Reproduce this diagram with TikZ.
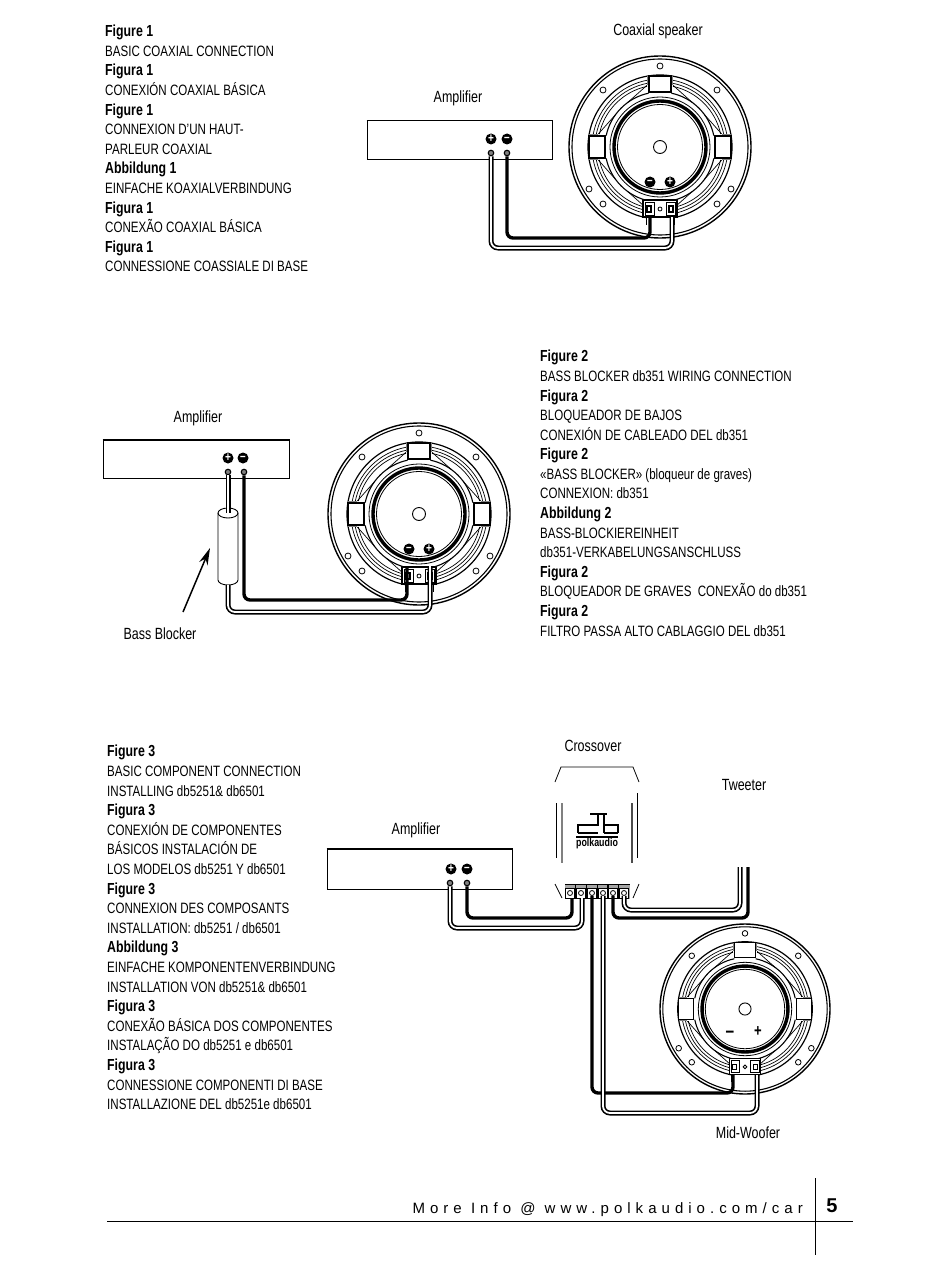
\documentclass[tikz,border=0pt]{standalone}
\usepackage{fontspec}
\setmainfont[FakeStretch=0.77]{Liberation Sans}
\newfontfamily\footfont[LetterSpace=33.5]{Liberation Sans}
\newfontfamily\pagefont{Liberation Sans}
\usetikzlibrary{arrows.meta}
\tikzset{
  caption/.style={anchor=north west, align=left, inner sep=0pt, font=\fontsize{15}{19.6}\selectfont},
  label/.style={inner sep=0pt, font=\fontsize{16.2}{18}\selectfont},
  ampbox/.style={draw=black, line width=1pt},
  polmark/.style={circle, fill=black, text=white, inner sep=0pt, minimum size=11pt, font=\fontsize{13}{13}\bfseries\selectfont},
  post/.style={circle, draw=black, fill=gray, inner sep=0pt, minimum size=5.5pt, line width=1.1pt},
  dblwire/.style={draw=black, line width=1.6pt, double=white, double distance=1.8pt, rounded corners=7pt},
  solidwire/.style={draw=black, line width=3.4pt, rounded corners=6pt},
  speaker/.pic={
    \draw[line width=1.4pt] (0,0) circle (91);
    \draw[line width=1.1pt] (0,0) circle (88);
    \draw[line width=1.2pt] (0,0) circle (72);
    \draw[line width=3.4pt] (0,0) circle (46);
    \draw[line width=.8pt] (0,0) circle (50);
    \draw[line width=.8pt] (0,0) circle (42.5);
    \draw[line width=.9pt] (0,0) circle (6.5);
    \foreach \a in {0,90,180,270} {
      \draw[line width=.7pt] (\a+10:68) arc[start angle=\a+10,end angle=\a+80,radius=68];
      \draw[line width=.7pt] (\a+11:65) arc[start angle=\a+11,end angle=\a+79,radius=65];
      \draw[line width=.7pt] (\a+12:62) arc[start angle=\a+12,end angle=\a+78,radius=62];
      \draw[line width=1.1pt] (\a+12:55) arc[start angle=\a+12,end angle=\a+78,radius=55];
      \draw[line width=.7pt] (\a+12:63) -- (\a+36:55);
      \draw[line width=.7pt] (\a+78:63) -- (\a+54:55);
    }
    \foreach \r in {0,90,270} {
      \draw[rotate=\r, line width=1.1pt, fill=white] (-11,-71) -- (11,-71) -- (11,-55) -- (-11,-55) -- cycle;
      \draw[rotate=\r, line width=1.6pt, gray] (-12.5,-71) -- (-12.5,-62) (12.5,-71) -- (12.5,-62);
    }
    \foreach \p in {(0,-81),(-57,-57),(57,-57),(-71,42),(71,42),(-57,57),(57,57)}
      \draw[line width=.8pt, fill=white] \p circle (3);
    \fill[white] (-14,66) rectangle (14,85);
    \draw[line width=1.1pt, fill=white] (-17,53) rectangle (17,70);
    \draw[line width=.8pt] (-15,55) rectangle (-6,68) (6,55) rectangle (15,68);
    \draw[line width=1.1pt, fill=white] (-13,59) rectangle (-9,65) (9,59) rectangle (13,65);
    \draw[line width=.8pt] (0,62) circle (2);
    \draw[line width=.9pt] (-14,70) -- (-14,78) (14,70) -- (14,78);
  }
}
\newcommand{\fighead}[1]{{\fontsize{16}{19.6}\bfseries\selectfont #1}}
\begin{document}
\begin{tikzpicture}[x=1pt,y=-1pt]
  \useasboundingbox (0,0) rectangle (950,1276);
  \fill[white] (0,0) rectangle (950,1276);

  % figure 1
  \node[caption] (capA) at (105,25) {\fighead{Figure 1}\\BASIC COAXIAL CONNECTION\\\fighead{Figura 1}\\CONEXIÓN COAXIAL BÁSICA\\\fighead{Figure 1}\\CONNEXION D’UN HAUT-\\PARLEUR COAXIAL\\\fighead{Abbildung 1}\\EINFACHE KOAXIALVERBINDUNG\\\fighead{Figura 1}\\CONEXÃO COAXIAL BÁSICA\\\fighead{Figura 1}\\CONNESSIONE COASSIALE DI BASE};
  \node[label] (spkAlabel) at (658,31) {Coaxial speaker};
  \node[label] (ampAlabel) at (458,98) {Amplifier};
  \node[ampbox, minimum width=185pt, minimum height=39pt, inner sep=0pt] (ampA) at (459.5,140.5) {};
  \draw[line width=1.8pt] (ampA.north west) -- (ampA.north east);
  \node[polmark] (ampAplus) at (491,139) {+};
  \node[polmark] (ampAminus) at (507,139) {–};
  \node[post] (ampApos) at (491,153) {};
  \node[post] (ampAneg) at (507,153) {};
  \pic (spkA) at (660,147) {speaker};
  \node[polmark] (spkAminus) at (650,182) {–};
  \node[polmark] (spkAplus) at (670,182) {+};
  \coordinate (termAneg) at (650,217);
  \coordinate (termApos) at (672,217);
  \coordinate (bendAneg) at (650,238);
  \coordinate (bendApos) at (672,248);
  \draw[solidwire] (ampAneg) |- (bendAneg) -- (termAneg);
  \draw[dblwire] (ampApos) |- (bendApos) -- (termApos);

  % figure 2
  \node[caption] (capB) at (540,350) {\fighead{Figure 2}\\BASS BLOCKER db351 WIRING CONNECTION\\\fighead{Figura 2}\\BLOQUEADOR DE BAJOS\\CONEXIÓN DE CABLEADO DEL db351\\\fighead{Figure 2}\\«BASS BLOCKER» (bloqueur de graves)\\CONNEXION: db351\\\fighead{Abbildung 2}\\BASS-BLOCKIEREINHEIT\\db351-VERKABELUNGSANSCHLUSS\\\fighead{Figura 2}\\BLOQUEADOR DE GRAVES\ \ CONEXÃO do db351\\\fighead{Figura 2}\\FILTRO PASSA ALTO CABLAGGIO DEL db351};
  \node[label] (ampBlabel) at (198,418) {Amplifier};
  \node[ampbox, minimum width=186pt, minimum height=38pt, inner sep=0pt] (ampB) at (196,459) {};
  \draw[line width=1.8pt] (ampB.north west) -- (ampB.north east);
  \node[polmark] (ampBplus) at (228,458) {+};
  \node[polmark] (ampBminus) at (243,458) {–};
  \node[post] (ampBpos) at (228,472) {};
  \node[post] (ampBneg) at (244,472) {};
  \pic (spkB) at (419,514) {speaker};
  \node[polmark] (spkBminus) at (409,549) {–};
  \node[polmark] (spkBplus) at (429,549) {+};
  \coordinate (blockTop) at (228,513);
  \coordinate (blockBot) at (228,585);
  \coordinate (termBneg) at (407,566);
  \coordinate (termBpos) at (430,566);
  \coordinate (bendBneg) at (407,600);
  \coordinate (bendBpos) at (430,612);
  \draw[solidwire] (ampBneg) |- (bendBneg) -- (termBneg);
  \draw[line width=.9pt] (228,513) ellipse [x radius=10,y radius=5];
  \draw[line width=.9pt] (218,513) -- (218,580) arc[start angle=180,end angle=0,x radius=10,y radius=5] -- (238,513);
  \draw[dblwire] (ampBpos) -- (blockTop);
  \draw[dblwire] (blockBot) |- (bendBpos) -- (termBpos);
  \node[label] (blockLabel) at (160,634) {Bass Blocker};
  \coordinate (arrowTail) at (183,612);
  \coordinate (arrowHead) at (210,548);
  \draw[line width=1.5pt, -{Stealth[length=17pt,width=9pt]}] (arrowTail) -- (arrowHead);

  % figure 3
  \node[caption] (capC) at (107,745) {\fighead{Figure 3}\\BASIC COMPONENT CONNECTION\\INSTALLING db5251\& db6501\\\fighead{Figura 3}\\CONEXIÓN DE COMPONENTES\\BÁSICOS INSTALACIÓN DE\\LOS MODELOS db5251 Y db6501\\\fighead{Figure 3}\\CONNEXION DES COMPOSANTS\\INSTALLATION: db5251 / db6501\\\fighead{Abbildung 3}\\EINFACHE KOMPONENTENVERBINDUNG\\INSTALLATION VON db5251\& db6501\\\fighead{Figura 3}\\CONEXÃO BÁSICA DOS COMPONENTES\\INSTALAÇÃO DO db5251 e db6501\\\fighead{Figura 3}\\CONNESSIONE COMPONENTI DI BASE\\INSTALLAZIONE DEL db5251e db6501};
  \node[label] (xoverLabel) at (593,746) {Crossover};
  \node[label] (tweetLabel) at (744,785) {Tweeter};
  \node[label] (ampClabel) at (416,830) {Amplifier};
  \node[label] (wooferLabel) at (748,1133) {Mid-Woofer};
  \node[ampbox, minimum width=185pt, minimum height=40pt, inner sep=0pt] (ampC) at (419.5,869) {};
  \draw[line width=1.8pt] (ampC.north west) -- (ampC.north east);
  \node[polmark] (ampCplus) at (451,869) {+};
  \node[polmark] (ampCminus) at (467,869) {–};
  \node[post] (ampCpos) at (450,883) {};
  \node[post] (ampCneg) at (467,883) {};

  % crossover body
  \draw[line width=.8pt] (555,782) -- (561,767) -- (633,767) -- (639,782);
  \draw[line width=.8pt] (555,884) -- (562,898);
  \draw[line width=.8pt] (639,884) -- (633,898);
  \draw[line width=.8pt] (556,803) -- (556,858);
  \draw[line width=.8pt] (637,793) -- (637,858);
  \draw[line width=2pt, gray] (562,803) -- (562,863);
  \draw[line width=2pt, black!70] (632,803) -- (632,863);
  \draw[line width=1.5pt] (578,833) -- (578,825) -- (598,825) -- (598,814) (590,814) -- (607,814) (604,814) -- (604,833) (604,825) -- (618,825) -- (618,833);
  \draw[line width=1.5pt] (578,833) -- (598,833) (604,833) -- (618,833);
  \draw[line width=1.8pt] (576,837) -- (618,837);
  \node[inner sep=0pt, font=\fontsize{11.5}{11}\bfseries\selectfont] (logo) at (597,844) {polkaudio};
  \fill[black!35] (565,884) rectangle (630,899);
  \draw[line width=1pt] (565,884) -- (630,884);
  \foreach \n/\xx in {1/570,2/581,3/592,4/603,5/613,6/624} {
    \draw[line width=.6pt, fill=white] (\xx-4.5,888) rectangle (\xx+4.5,898);
    \node[circle, draw, fill=white, line width=.8pt, inner sep=0pt, minimum size=5pt] (screw\n) at (\xx,893) {};
  }
  \foreach \xx in {575.5,586.5,597.5,608,618.5}
    \draw[line width=1.5pt] (\xx,884) -- (\xx,899);

  \pic[scale=.934] (spkC) at (745,1009) {speaker};
  \node[inner sep=0pt, font=\fontsize{20}{20}\bfseries\selectfont] (spkCminus) at (730,1034) {–};
  \node[inner sep=0pt, font=\fontsize{17}{17}\bfseries\selectfont] (spkCplus) at (758,1032) {+};
  \coordinate (termCneg) at (733,1075);
  \coordinate (termCpos) at (757,1075);
  \coordinate (bendCneg) at (733,1093);
  \coordinate (bendCpos) at (757,1113);
  \coordinate (inAneg) at (572,898);
  \coordinate (inApos) at (582,898);
  \coordinate (bendInNeg) at (572,918);
  \coordinate (bendInPos) at (582,928);
  \coordinate (tweetNeg) at (748,867);
  \coordinate (tweetPos) at (740,867);
  \coordinate (bendTwNeg) at (748,918);
  \coordinate (bendTwPos) at (740,910);
  \draw[solidwire] (ampCneg) |- (bendInNeg) -- (inAneg);
  \draw[dblwire] (ampCpos) |- (bendInPos) -- (inApos);
  \draw[solidwire] (screw3.south) |- (bendCneg) -- (termCneg);
  \draw[dblwire] (screw4.south) |- (bendCpos) -- (termCpos);
  \draw[solidwire] (screw5.south) |- (bendTwNeg) -- (tweetNeg);
  \draw[dblwire] (screw6.south) |- (bendTwPos) -- (tweetPos);

  % footer
  \node[inner sep=0pt, anchor=base east, font=\fontsize{15}{15}\footfont] (footText) at (803,1213) {More Info @ www.polkaudio.com/car};
  \node[inner sep=0pt, font=\fontsize{20}{20}\pagefont\bfseries] (pageNum) at (832,1206) {5};
  \coordinate (ruleL) at (107,1221);
  \coordinate (ruleR) at (853,1221);
  \coordinate (ruleT) at (815,1178);
  \coordinate (ruleB) at (815,1255);
  \draw[line width=1pt] (ruleL) -- (ruleR);
  \draw[line width=1pt] (ruleT) -- (ruleB);
\end{tikzpicture}
\end{document}
